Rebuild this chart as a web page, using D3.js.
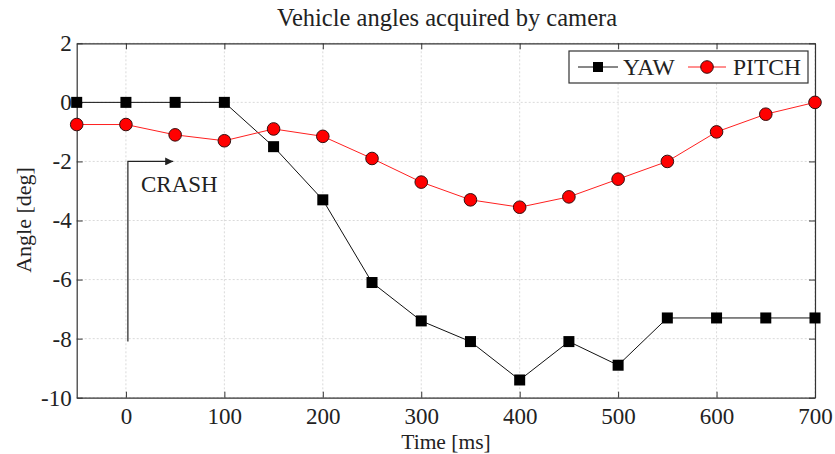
<!DOCTYPE html>
<html><head><meta charset="utf-8">
<script src="https://cdn.jsdelivr.net/npm/d3@7"></script>
<style>body{margin:0;background:#fff}svg{display:block}text{font-family:"Liberation Serif","Times New Roman",serif;fill:#222}</style>
</head><body>
<svg id="c" width="835" height="454"></svg>
<script>
const times = [-50,0,50,100,150,200,250,300,350,400,450,500,550,600,650,700];
const yaw   = [0,0,0,0,-1.5,-3.3,-6.1,-7.4,-8.1,-9.4,-8.1,-8.9,-7.3,-7.3,-7.3,-7.3];
const pitch = [-0.75,-0.75,-1.1,-1.3,-0.9,-1.15,-1.9,-2.7,-3.3,-3.55,-3.2,-2.6,-2.0,-1.0,-0.4,0];
const xTicks = [0,100,200,300,400,500,600,700];
const yTicks = [-10,-8,-6,-4,-2,0,2];
const crashPath = [[2,-8.1],[2,-2.0],[48,-2.0]];

const svg = d3.select("#c");
const L=76.7,R=815,T=43.3,B=397.7;
const x = d3.scaleLinear().domain([-50,700]).range([L,R]);
const y = d3.scaleLinear().domain([-10,2]).range([B,T]);
const fmt = d => String(d);

// grid
const g = svg.append("g");
g.selectAll(".gx").data(xTicks).join("line").attr("x1",d=>x(d)).attr("x2",d=>x(d)).attr("y1",T).attr("y2",B)
 .attr("stroke","#d0d0d0").attr("stroke-dasharray","2,2").attr("stroke-width",0.8);
g.selectAll(".gy").data(yTicks).join("line").attr("y1",d=>y(d)).attr("y2",d=>y(d)).attr("x1",L).attr("x2",R)
 .attr("stroke","#d0d0d0").attr("stroke-dasharray","2,2").attr("stroke-width",0.8);

// axes
const ax = svg.append("g").attr("transform",`translate(0,${B})`).call(d3.axisBottom(x).tickValues(xTicks).tickFormat(fmt).tickSizeInner(-6).tickSizeOuter(0).tickPadding(9.5));
const ay = svg.append("g").attr("transform",`translate(${L},0)`).call(d3.axisLeft(y).tickValues(yTicks).tickFormat(fmt).tickSizeInner(-6).tickSizeOuter(0).tickPadding(5));
const axT = svg.append("g").attr("transform",`translate(0,${T})`).call(d3.axisTop(x).tickValues(xTicks).tickSizeInner(-6).tickSizeOuter(0).tickFormat(""));
const ayR = svg.append("g").attr("transform",`translate(${R},0)`).call(d3.axisRight(y).tickValues(yTicks).tickSizeInner(-6).tickSizeOuter(0).tickFormat(""));
[ax,ay,axT,ayR].forEach(a=>{a.select(".domain").attr("stroke","#333").attr("stroke-width",1.2);
 a.selectAll(".tick line").attr("stroke","#333");
 a.selectAll(".tick text").style("font-family",'"Liberation Serif",serif').style("font-size","23px").attr("fill","#222");});

// crash annotation
svg.append("defs").append("marker").attr("id","ah").attr("viewBox","0 0 10 10").attr("refX",10).attr("refY",5)
 .attr("markerWidth",12).attr("markerHeight",8).attr("markerUnits","userSpaceOnUse").attr("orient","auto")
 .append("path").attr("d","M0,0L10,5L0,10z").attr("fill","#222");
svg.append("path").attr("d",d3.line().x(d=>x(d[0])).y(d=>y(d[1]))(crashPath)).attr("fill","none")
 .attr("stroke","#222").attr("stroke-width",1.2).attr("marker-end","url(#ah)");
svg.append("text").attr("x",141).attr("y",192).style("font-size","23px").text("CRASH");

// lines
const line = (arr)=>d3.line().x((d,i)=>x(times[i])).y(d=>y(d))(arr);
svg.append("path").attr("d",line(yaw)).attr("fill","none").attr("stroke","#111").attr("stroke-width",1);
svg.append("path").attr("d",line(pitch)).attr("fill","none").attr("stroke","#ff2020").attr("stroke-width",1);
svg.selectAll(".ym").data(yaw).join("rect").attr("x",(d,i)=>x(times[i])-5.5).attr("y",d=>y(d)-5.5)
 .attr("width",11).attr("height",11).attr("fill","#000");
svg.selectAll(".pm").data(pitch).join("circle").attr("cx",(d,i)=>x(times[i])).attr("cy",d=>y(d)).attr("r",6.3)
 .attr("fill","#ff0000").attr("stroke","#331111").attr("stroke-width",1);

// legend
const lg = svg.append("g");
lg.append("rect").attr("x",569).attr("y",51).attr("width",239).attr("height",32).attr("fill","#fff").attr("stroke","#333").attr("stroke-width",1.2);
lg.append("line").attr("x1",578).attr("x2",618).attr("y1",67).attr("y2",67).attr("stroke","#111");
lg.append("rect").attr("x",593).attr("y",62).attr("width",10).attr("height",10).attr("fill","#000");
lg.append("text").attr("x",623).attr("y",75).style("font-size","23.5px").text("YAW");
lg.append("line").attr("x1",688).attr("x2",726).attr("y1",67).attr("y2",67).attr("stroke","#ff2020");
lg.append("circle").attr("cx",707).attr("cy",67).attr("r",6.3).attr("fill","#ff0000").attr("stroke","#331111");
lg.append("text").attr("x",733).attr("y",75).style("font-size","23.5px").text("PITCH");

// titles
svg.append("text").attr("x",447).attr("y",26).attr("text-anchor","middle").style("font-size","24.5px").text("Vehicle angles acquired by camera");
svg.append("text").attr("x",446).attr("y",449).attr("text-anchor","middle").style("font-size","21.5px").text("Time [ms]");
svg.append("text").attr("transform","translate(31,220) rotate(-90)").attr("text-anchor","middle").style("font-size","22px").text("Angle [deg]");
</script>
</body></html>
